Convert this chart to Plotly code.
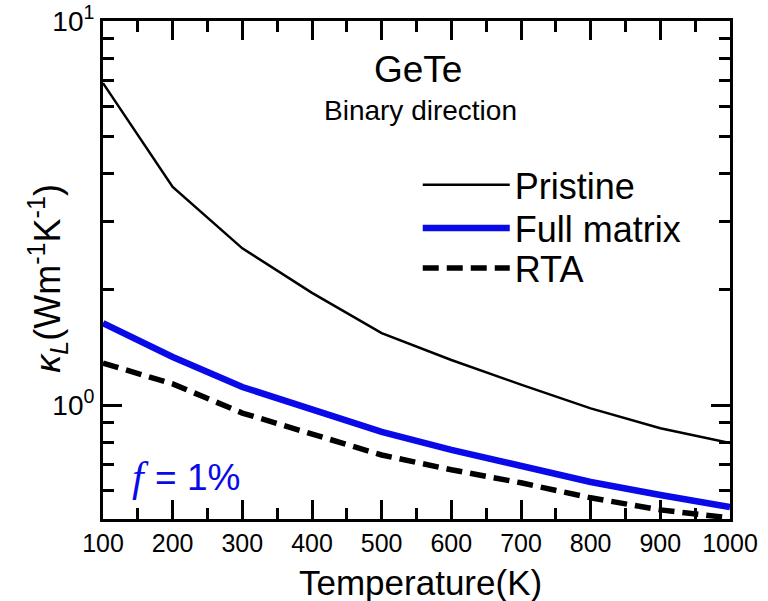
import plotly.graph_objects as go

temperature = [100, 200, 300, 400, 500, 600, 700, 800, 900, 1000]
kappa_pristine = [6.90, 3.70, 2.56, 1.96, 1.54, 1.31, 1.13, 0.98, 0.87, 0.796]
kappa_full = [1.635, 1.334, 1.114, 0.970, 0.851, 0.764, 0.694, 0.630, 0.583, 0.542]
kappa_rta = [1.286, 1.135, 0.953, 0.840, 0.741, 0.678, 0.627, 0.573, 0.533, 0.508]

x_ticks = [100, 200, 300, 400, 500, 600, 700, 800, 900, 1000]
x_minor = [150, 250, 350, 450, 550, 650, 750, 850, 950]
y_ticks = [1, 10]
y_ticktext = ["10<sup>0</sup>", "10<sup>1</sup>"]
y_minor = [0.6, 0.7, 0.8, 0.9, 2, 3, 4, 5, 6, 7, 8, 9]

BLUE = "#0a0ae8"
FONT = "Liberation Sans, Arial, sans-serif"
SERIF = "Liberation Serif, Times New Roman, serif"

fig = go.Figure()
fig.add_trace(go.Scatter(x=temperature, y=kappa_pristine, mode="lines", name="Pristine",
                         line=dict(color="black", width=2.5), legend="legend"))
fig.add_trace(go.Scatter(x=temperature, y=kappa_full, mode="lines", name="Full matrix",
                         line=dict(color=BLUE, width=6.5), legend="legend2"))
fig.add_trace(go.Scatter(x=temperature, y=kappa_rta, mode="lines", name="RTA",
                         line=dict(color="black", width=5.5, dash="16px,8px"), legend="legend3"))

axis_common = dict(showline=True, linewidth=3, linecolor="black", mirror="ticks",
                   ticks="inside", ticklen=19, tickwidth=3, tickcolor="black",
                   showgrid=False, zeroline=False, automargin=False)

fig.update_xaxes(range=[100, 1000], tickvals=x_ticks,
                 tickfont=dict(family=FONT, size=25, color="black"),
                 minor=dict(tickvals=x_minor, ticks="inside", ticklen=11, tickwidth=3, tickcolor="black"),
                 **axis_common)
fig.update_yaxes(type="log", range=[-0.297, 1.0006], tickvals=y_ticks, ticktext=y_ticktext,
                 tickfont=dict(family=FONT, size=28, color="black"),
                 minor=dict(tickvals=y_minor, ticks="inside", ticklen=11, tickwidth=3, tickcolor="black"),
                 **axis_common)

# axis titles
fig.add_annotation(x=0.507, y=-0.127, xref="paper", yref="paper", xanchor="center", yanchor="middle",
                   showarrow=False, text="Temperature(K)",
                   font=dict(family=FONT, size=35, color="black"))
fig.add_annotation(x=-0.088, y=0.484, xref="paper", yref="paper", xanchor="center", yanchor="middle",
                   textangle=-90, showarrow=False,
                   text="<i>κ</i><sub><i>L</i></sub>(Wm<sup>-1</sup>K<sup>-1</sup>)",
                   font=dict(family=FONT, size=36, color="black"))

fig.add_annotation(x=0.502, y=0.902, xref="paper", yref="paper", xanchor="center", yanchor="middle",
                   text="GeTe", showarrow=False,
                   font=dict(family=FONT, size=37, color="black"))
fig.add_annotation(x=0.506, y=0.821, xref="paper", yref="paper", xanchor="center", yanchor="middle",
                   text="Binary direction", showarrow=False,
                   font=dict(family=FONT, size=28, color="black"))
fig.add_annotation(x=0.077, y=0.084, xref="paper", yref="paper", xanchor="right", yanchor="middle",
                   text="<i>f</i>", showarrow=False,
                   font=dict(family=SERIF, size=42, color=BLUE))
fig.add_annotation(x=0.080, y=0.084, xref="paper", yref="paper", xanchor="left", yanchor="middle",
                   text="= 1%", showarrow=False,
                   font=dict(family=FONT, size=37, color=BLUE))

leg_common = dict(x=0.502, xanchor="left", yanchor="middle", bgcolor="rgba(0,0,0,0)",
                  font=dict(family=FONT, size=36, color="black"), itemwidth=87)

fig.update_layout(
    width=768, height=601,
    margin=dict(l=103, r=38, t=21, b=82),
    paper_bgcolor="white", plot_bgcolor="white",
    showlegend=True,
    legend=dict(y=0.671, **leg_common),
    legend2=dict(y=0.584, **leg_common),
    legend3=dict(y=0.504, **leg_common),
)

fig.write_html("out.html")
